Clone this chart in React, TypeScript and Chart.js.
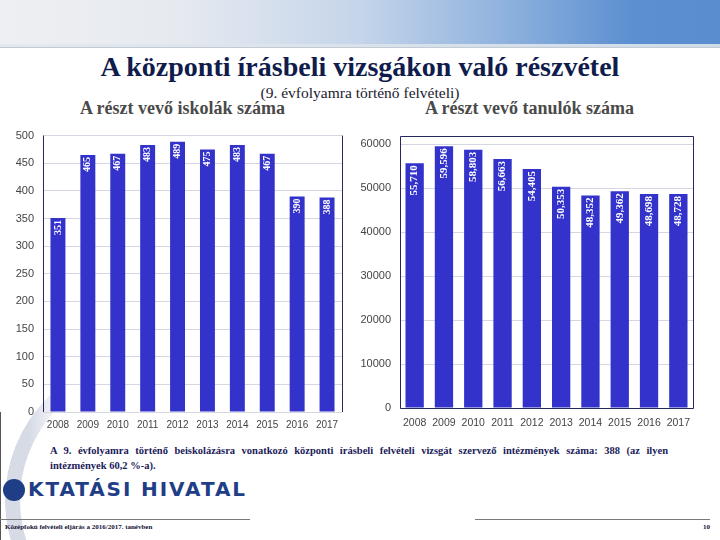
import React, { useEffect, useRef } from "react";
import { Chart, registerables } from "chart.js";

Chart.register(...registerables);

const years = ["2008", "2009", "2010", "2011", "2012", "2013", "2014", "2015", "2016", "2017"];
const schoolCounts = [351, 465, 467, 483, 489, 475, 483, 467, 390, 388];
const studentCounts = [55710, 59596, 58803, 56663, 54405, 50353, 48352, 49362, 48698, 48728];
const schoolTicks = [0, 50, 100, 150, 200, 250, 300, 350, 400, 450, 500];
const studentTicks = [0, 10000, 20000, 30000, 40000, 50000, 60000];
const schoolMax = 500;
const studentMax = 62000;

const BAR = "#3333cc";
const NAVY = "#27275f";
const GRID = "#d6d6e2";
const TICK = "#444444";

function labelPlugin(fontSize: number, fmt: (v: number) => string, offset: number) {
  return {
    id: "barLabels",
    afterDatasetsDraw(chart: any) {
      const ctx = chart.ctx;
      const meta = chart.getDatasetMeta(0);
      const data = chart.data.datasets[0].data as number[];
      ctx.save();
      ctx.fillStyle = "#ffffff";
      ctx.font = `bold ${fontSize}px "Liberation Serif", "Times New Roman", serif`;
      ctx.textAlign = "right";
      ctx.textBaseline = "middle";
      meta.data.forEach((el: any, i: number) => {
        ctx.save();
        ctx.translate(el.x, el.y + offset);
        ctx.rotate(-Math.PI / 2);
        ctx.fillText(fmt(data[i]), 0, 0);
        ctx.restore();
      });
      ctx.restore();
    },
  };
}

function framePlugin(full: boolean) {
  return {
    id: "frame",
    afterDraw(chart: any) {
      const { left, right, top, bottom } = chart.chartArea;
      const ctx = chart.ctx;
      ctx.save();
      ctx.strokeStyle = NAVY;
      ctx.lineWidth = 1;
      ctx.beginPath();
      if (full) {
        ctx.rect(Math.round(left) + 0.5, Math.round(top) + 0.5, Math.round(right - left), Math.round(bottom - top));
      } else {
        ctx.moveTo(Math.round(left) + 0.5, top);
        ctx.lineTo(Math.round(left) + 0.5, bottom);
        ctx.moveTo(Math.round(right) + 0.5, top);
        ctx.lineTo(Math.round(right) + 0.5, bottom);
      }
      ctx.stroke();
      ctx.restore();
    },
  };
}

type Cfg = {
  labels: string[];
  values: number[];
  max: number;
  ticks: number[];
  barPct: number;
  yWidth: number;
  xHeight: number;
  padTop: number;
  padRight: number;
  xFont: number;
  xPad: number;
  labelFont: number;
  labelFmt: (v: number) => string;
  labelOffset: number;
  full: boolean;
};

function BarChart({ cfg, style }: { cfg: Cfg; style: React.CSSProperties }) {
  const ref = useRef<HTMLCanvasElement | null>(null);
  useEffect(() => {
    if (!ref.current) return;
    const chart = new Chart(ref.current, {
      type: "bar",
      data: {
        labels: cfg.labels,
        datasets: [
          {
            data: cfg.values,
            backgroundColor: BAR,
            borderWidth: 0,
            barPercentage: cfg.barPct,
            categoryPercentage: 1,
          },
        ],
      },
      options: {
        animation: false,
        responsive: false,
        maintainAspectRatio: false,
        layout: { padding: { top: cfg.padTop, right: cfg.padRight, left: 0, bottom: 0 } },
        plugins: { legend: { display: false }, tooltip: { enabled: false } },
        scales: {
          x: {
            grid: { display: false, drawTicks: false },
            border: { display: false },
            ticks: {
              color: TICK,
              padding: cfg.xPad,
              font: { family: '"Liberation Sans", Arial, sans-serif', size: cfg.xFont },
              maxRotation: 0,
              autoSkip: false,
            },
            afterFit: (s: any) => {
              s.height = cfg.xHeight;
            },
          },
          y: {
            min: 0,
            max: cfg.max,
            grid: { drawTicks: false, lineWidth: 1, color: GRID },
            border: { display: false },
            ticks: {
              autoSkip: false,
              color: TICK,
              padding: 9,
              font: { family: '"Liberation Sans", Arial, sans-serif', size: 11 },
              callback: (v: any) => String(v),
            },
            afterBuildTicks: (s: any) => {
              s.ticks = cfg.ticks.map((v) => ({ value: v }));
            },
            afterFit: (s: any) => {
              s.width = cfg.yWidth;
            },
          },
        },
      },
      plugins: [labelPlugin(cfg.labelFont, cfg.labelFmt, cfg.labelOffset), framePlugin(cfg.full)],
    } as any);
    return () => chart.destroy();
  }, []);
  return <canvas ref={ref} width={style.width as number} height={style.height as number} style={style} />;
}

const leftCfg: Cfg = {
  labels: years,
  values: schoolCounts,
  max: schoolMax,
  ticks: schoolTicks,
  barPct: 0.5,
  yWidth: 43,
  xHeight: 28,
  padTop: 13,
  padRight: 10,
  xFont: 10,
  xPad: 7,
  labelFont: 10,
  labelFmt: (v) => String(v),
  labelOffset: 2,
  full: false,
};

const rightCfg: Cfg = {
  labels: years,
  values: studentCounts,
  max: studentMax,
  ticks: studentTicks,
  barPct: 0.625,
  yWidth: 48,
  xHeight: 32,
  padTop: 13,
  padRight: 27,
  xFont: 10.5,
  xPad: 9,
  labelFont: 11,
  labelFmt: (v) => v.toLocaleString("en-US"),
  labelOffset: 2,
  full: true,
};

export default function App() {
  const serif = '"Liberation Serif", "Times New Roman", serif';
  return (
    <div
      style={{
        position: "fixed",
        left: 0,
        top: 0,
        width: 720,
        height: 540,
        background: "#ffffff",
        overflow: "hidden",
        fontFamily: serif,
      }}
    >
      {/* header band */}
      <div
        style={{
          position: "absolute",
          left: 0,
          top: 0,
          width: 720,
          height: 44,
          background: "linear-gradient(to right, #eeeff2 0%, #e6eaf0 25%, #c5d5ea 50%, #8fb2de 70%, #5b8fd0 88%, #588dd0 100%)",
        }}
      />
      <div style={{ position: "absolute", left: 0, top: 44, width: 720, height: 3, background: "linear-gradient(to right, #e4e8ee, #cfdde9)" }} />
      <div style={{ position: "absolute", left: 0, top: 47, width: 720, height: 1, background: "#c4cad3" }} />

      {/* decorative ring */}
      <div
        style={{
          position: "absolute",
          left: 5,
          top: 355,
          width: 290,
          height: 290,
          boxSizing: "border-box",
          border: "15px solid #d7dbe6",
          borderRadius: "50%",
          WebkitMaskImage: "linear-gradient(to right, black 0px, black 25px, transparent 60px)",
          maskImage: "linear-gradient(to right, black 0px, black 25px, transparent 60px)",
        }}
      />
      <div style={{ position: "absolute", left: 0, top: 412, width: 1, height: 128, background: "#555" }} />

      {/* titles */}
      <div
        style={{
          position: "absolute",
          left: 0,
          top: 51,
          width: 720,
          textAlign: "center",
          fontSize: 28,
          fontWeight: "bold",
          color: "#101c4c",
          whiteSpace: "nowrap",
        }}
      >
        A központi írásbeli vizsgákon való részvétel
      </div>
      <div
        style={{
          position: "absolute",
          left: 0,
          top: 84,
          width: 720,
          textAlign: "center",
          fontSize: 15.5,
          color: "#1a1a2e",
          whiteSpace: "nowrap",
        }}
      >
        (9. évfolyamra történő felvételi)
      </div>
      <div
        style={{
          position: "absolute",
          left: 80,
          top: 98,
          fontSize: 18,
          fontWeight: "bold",
          color: "#4a4a4a",
          whiteSpace: "nowrap",
        }}
      >
        A részt vevő iskolák száma
      </div>
      <div
        style={{
          position: "absolute",
          left: 425,
          top: 98,
          fontSize: 18,
          fontWeight: "bold",
          color: "#4a4a4a",
          whiteSpace: "nowrap",
        }}
      >
        A részt vevő tanulók száma
      </div>

      {/* charts */}
      <BarChart cfg={leftCfg} style={{ position: "absolute", left: 0, top: 120, width: 352, height: 320 }} />
      <BarChart cfg={rightCfg} style={{ position: "absolute", left: 352, top: 120, width: 368, height: 320 }} />

      {/* note */}
      <div
        style={{
          position: "absolute",
          left: 50,
          top: 443,
          width: 618,
          fontFamily: serif,
          fontSize: 10.5,
          lineHeight: "15px",
          fontWeight: "bold",
          color: "#1b1b5a",
          textAlign: "justify",
          textAlignLast: "justify" as any,
          whiteSpace: "nowrap",
        }}
      >
        A 9. évfolyamra történő beiskolázásra vonatkozó központi írásbeli felvételi vizsgát szervező intézmények száma: 388 (az ilyen
      </div>
      <div
        style={{
          position: "absolute",
          left: 50,
          top: 458,
          fontFamily: serif,
          fontSize: 10.5,
          lineHeight: "15px",
          fontWeight: "bold",
          color: "#1b1b5a",
          whiteSpace: "nowrap",
        }}
      >
        intézmények 60,2 %-a).
      </div>

      {/* logo */}
      <div
        style={{
          position: "absolute",
          left: 3,
          top: 479,
          width: 22,
          height: 22,
          borderRadius: "50%",
          background: "#1f3e86",
        }}
      />
      <div
        style={{
          position: "absolute",
          left: 28,
          top: 477,
          fontFamily: '"DejaVu Sans", sans-serif',
          fontWeight: "bold",
          fontSize: 20,
          letterSpacing: 1.9,
          color: "#1f3e86",
          whiteSpace: "nowrap",
        }}
      >
        KTATÁSI HIVATAL
      </div>

      {/* footer */}
      <div style={{ position: "absolute", left: 0, top: 519, width: 250, height: 1, background: "#7a7a7a" }} />
      <div style={{ position: "absolute", left: 475, top: 519, width: 235, height: 1, background: "#7a7a7a" }} />
      <div
        style={{
          position: "absolute",
          left: 5,
          top: 523,
          fontSize: 7,
          fontWeight: "bold",
          color: "#111133",
          whiteSpace: "nowrap",
        }}
      >
        Középfokú felvételi eljárás a 2016/2017. tanévben
      </div>
      <div
        style={{
          position: "absolute",
          left: 703,
          top: 523,
          fontSize: 7,
          fontWeight: "bold",
          color: "#111133",
        }}
      >
        10
      </div>
    </div>
  );
}
